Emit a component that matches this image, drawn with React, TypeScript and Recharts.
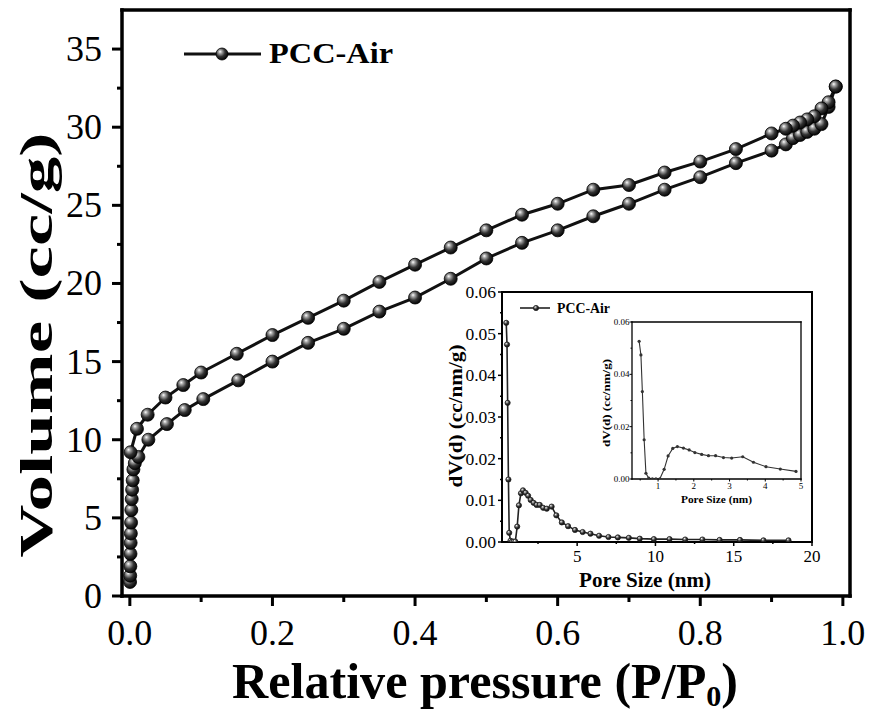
import { LineChart, Line, XAxis, YAxis } from "recharts";

const FONT = '"Liberation Serif", "Times New Roman", serif';

// N2 isotherm – adsorption branch
const adsPressure = [
  0.0003, 0.0005, 0.0007, 0.0009, 0.0011, 0.0014, 0.0017, 0.0021, 0.0026, 0.0032,
  0.004, 0.005, 0.007, 0.012, 0.026, 0.052, 0.077, 0.103, 0.152, 0.2, 0.25, 0.3,
  0.35, 0.4, 0.45, 0.5, 0.55, 0.6, 0.65, 0.7, 0.75, 0.8, 0.85, 0.9, 0.92, 0.93,
  0.94, 0.95, 0.96, 0.97, 0.98, 0.99,
];
const adsVolume = [
  0.9, 1.3, 1.9, 2.7, 3.4, 4.0, 4.7, 5.5, 6.2, 6.8, 7.4, 8.1, 8.5, 8.9, 10.0, 11.0,
  11.9, 12.6, 13.8, 15.0, 16.2, 17.1, 18.2, 19.1, 20.3, 21.6, 22.6, 23.4, 24.3,
  25.1, 26.0, 26.8, 27.7, 28.5, 28.9, 29.3, 29.5, 29.7, 29.9, 30.2, 31.3, 32.6,
];

// desorption branch
const desPressure = [
  0.99, 0.98, 0.97, 0.96, 0.95, 0.94, 0.93, 0.92, 0.9, 0.85, 0.8, 0.75, 0.7, 0.65,
  0.6, 0.55, 0.5, 0.45, 0.4, 0.35, 0.3, 0.25, 0.2, 0.15, 0.1, 0.075, 0.05, 0.025,
  0.01, 0.001,
];
const desVolume = [
  32.6, 31.6, 31.2, 30.7, 30.5, 30.3, 30.1, 29.9, 29.6, 28.6, 27.8, 27.1, 26.3,
  26.0, 25.1, 24.4, 23.4, 22.3, 21.2, 20.1, 18.9, 17.8, 16.7, 15.5, 14.3, 13.5,
  12.7, 11.6, 10.7, 9.2,
];

// pore size distribution
const poreSize = [
  0.47, 0.52, 0.56, 0.61, 0.66, 0.74, 0.84, 0.94, 1.05, 1.17, 1.28, 1.41, 1.54,
  1.71, 1.87, 2.03, 2.22, 2.41, 2.61, 2.83, 3.06, 3.37, 3.67, 4.02, 4.42, 4.86,
  5.35, 5.85, 6.4, 7.0, 7.6, 8.3, 9.0, 9.9, 10.9, 11.9, 13.0, 14.1, 15.4, 16.9,
  18.5,
];
const poreVolume = [
  0.0526, 0.0474, 0.0334, 0.015, 0.0022, 0.0003, 0.0001, 0.0001, 0.0001, 0.0037,
  0.0088, 0.0117, 0.0124, 0.0118, 0.0111, 0.0101, 0.0094, 0.0089, 0.0089, 0.0082,
  0.008, 0.0085, 0.0064, 0.0047, 0.0038, 0.0029, 0.0024, 0.002, 0.0015, 0.0012,
  0.0011, 0.001, 0.0008, 0.0007, 0.0007, 0.0006, 0.0006, 0.0005, 0.0005, 0.0004,
  0.0004,
];

// ticks
const pressureTicks = [0, 0.1, 0.2, 0.3, 0.4, 0.5, 0.6, 0.7, 0.8, 0.9, 1.0];
const pressureLabels = [0, 0.2, 0.4, 0.6, 0.8, 1.0];
const volumeTicks = [0, 2.5, 5, 7.5, 10, 12.5, 15, 17.5, 20, 22.5, 25, 27.5, 30, 32.5, 35];
const volumeLabels = [0, 5, 10, 15, 20, 25, 30, 35];
const sizeTicks = [2.5, 5, 7.5, 10, 12.5, 15, 17.5, 20];
const sizeLabels = [5, 10, 15, 20];
const dvTicks = [0, 0.005, 0.01, 0.015, 0.02, 0.025, 0.03, 0.035, 0.04, 0.045, 0.05, 0.055, 0.06];
const dvLabels = [0, 0.01, 0.02, 0.03, 0.04, 0.05, 0.06];
const zoomSizeTicks = [0.5, 1, 1.5, 2, 2.5, 3, 3.5, 4, 4.5, 5];
const zoomSizeLabels = [1, 2, 3, 4, 5];
const zoomDvTicks = [0, 0.01, 0.02, 0.03, 0.04, 0.05, 0.06];
const zoomDvLabels = [0, 0.02, 0.04, 0.06];

const adsorption = adsPressure.map((p, i) => ({ p, v: adsVolume[i] }));
const desorption = desPressure.map((p, i) => ({ p, v: desVolume[i] }));
const psd = poreSize.map((d, i) => ({ d, dv: poreVolume[i] }));
const psdZoom = psd.filter((r) => r.d <= 5);

type TickOpts = {
  labels: number[];
  major: number;
  minor: number;
  width: number;
  gap: number;
  fontSize: number;
  fmt: (v: number) => string;
  shift: number;
};

const yTick = (o: TickOpts) => (props: any) => {
  const { x, y, payload } = props;
  const isMajor = o.labels.includes(payload.value);
  return (
    <g>
      <line x1={x} x2={x - (isMajor ? o.major : o.minor)} y1={y} y2={y} stroke="#000" strokeWidth={o.width} />
      {isMajor && (
        <text x={x - o.major - o.gap} y={y + o.shift} textAnchor="end" fontSize={o.fontSize} fontFamily={FONT} fill="#000">
          {o.fmt(payload.value)}
        </text>
      )}
    </g>
  );
};

const xTick = (o: TickOpts) => (props: any) => {
  const { x, y, payload } = props;
  const isMajor = o.labels.includes(payload.value);
  return (
    <g>
      <line x1={x} x2={x} y1={y} y2={y + (isMajor ? o.major : o.minor)} stroke="#000" strokeWidth={o.width} />
      {isMajor && (
        <text x={x} y={y + o.shift} textAnchor="middle" fontSize={o.fontSize} fontFamily={FONT} fill="#000">
          {o.fmt(payload.value)}
        </text>
      )}
    </g>
  );
};

const ball = (r: number, grad: string, stroke: string, sw: number) => (props: any) => (
  <circle key={`b-${props.index}`} cx={props.cx} cy={props.cy} r={r} fill={`url(#${grad})`} stroke={stroke} strokeWidth={sw} />
);

const Sphere = ({ id }: { id: string }) => (
  <radialGradient id={id} cx="40%" cy="38%" r="62%" fx="34%" fy="30%">
    <stop offset="0%" stopColor="#ffffff" />
    <stop offset="22%" stopColor="#a8a8a8" />
    <stop offset="60%" stopColor="#333333" />
    <stop offset="100%" stopColor="#050505" />
  </radialGradient>
);

const frame = (w: number) => ({ stroke: "#000", strokeWidth: w, strokeLinecap: "square" as const });

// axes keep a 1px band (a zero-sized axis is not rendered)
function MainChart() {
  return (
    <LineChart width={870} height={715} margin={{ top: 9, right: 19, bottom: 118, left: 121 }}>
      <defs>
        <Sphere id="ballMain" />
      </defs>
      <XAxis
        type="number"
        dataKey="p"
        domain={[-0.011, 1.01]}
        ticks={pressureTicks}
        interval={0}
        height={1}
        tickSize={0}
        tickMargin={0}
        tickLine={false}
        axisLine={frame(3.5)}
        tick={xTick({ labels: pressureLabels, major: 10, minor: 6, width: 3, gap: 0, fontSize: 36, fmt: (v) => v.toFixed(1), shift: 49 })}
        allowDataOverflow
      />
      <XAxis xAxisId="top" orientation="top" type="number" domain={[0, 1]} height={1} tick={false} tickLine={false} axisLine={frame(3.5)} />
      <YAxis
        type="number"
        domain={[0, 37.5]}
        ticks={volumeTicks}
        interval={0}
        width={1}
        tickSize={0}
        tickMargin={0}
        tickLine={false}
        axisLine={frame(3.5)}
        tick={yTick({ labels: volumeLabels, major: 10, minor: 5, width: 3, gap: 10, fontSize: 36, fmt: (v) => String(v), shift: 12 })}
        allowDataOverflow
      />
      <YAxis yAxisId="right" orientation="right" type="number" domain={[0, 1]} width={1} tick={false} tickLine={false} axisLine={frame(3.5)} />
      <Line data={adsorption} dataKey="v" stroke="#111" strokeWidth={3} dot={ball(6.5, "ballMain", "#000", 0.8)} activeDot={false} isAnimationActive={false} />
      <Line data={desorption} dataKey="v" stroke="#111" strokeWidth={3} dot={ball(6.5, "ballMain", "#000", 0.8)} activeDot={false} isAnimationActive={false} />
    </LineChart>
  );
}

function PsdInset() {
  return (
    <LineChart width={420} height={330} margin={{ top: 21, right: 27, bottom: 57, left: 81 }}>
      <defs>
        <Sphere id="ballInset" />
      </defs>
      <XAxis
        type="number"
        dataKey="d"
        domain={[0.2, 20]}
        ticks={sizeTicks}
        interval={0}
        height={1}
        tickSize={0}
        tickMargin={0}
        tickLine={false}
        axisLine={frame(2)}
        tick={xTick({ labels: sizeLabels, major: 4, minor: 2, width: 1.5, gap: 0, fontSize: 17, fmt: (v) => String(v), shift: 20 })}
        allowDataOverflow
      />
      <XAxis xAxisId="top" orientation="top" type="number" domain={[0, 1]} height={1} tick={false} tickLine={false} axisLine={frame(2)} />
      <YAxis
        type="number"
        domain={[0, 0.06]}
        ticks={dvTicks}
        interval={0}
        width={1}
        tickSize={0}
        tickMargin={0}
        tickLine={false}
        axisLine={frame(2)}
        tick={yTick({ labels: dvLabels, major: 4, minor: 2, width: 1.5, gap: 2, fontSize: 17.5, fmt: (v) => v.toFixed(2), shift: 6 })}
        allowDataOverflow
      />
      <YAxis yAxisId="right" orientation="right" type="number" domain={[0, 1]} width={1} tick={false} tickLine={false} axisLine={frame(2)} />
      <Line data={psd} dataKey="dv" stroke="#222" strokeWidth={1.6} dot={ball(2.6, "ballInset", "#222", 0.8)} activeDot={false} isAnimationActive={false} />
    </LineChart>
  );
}

function PsdZoom() {
  return (
    <LineChart width={230} height={210} margin={{ top: 21, right: 18, bottom: 30, left: 41 }}>
      <XAxis
        type="number"
        dataKey="d"
        domain={[0.27, 5]}
        ticks={zoomSizeTicks}
        interval={0}
        height={1}
        tickSize={0}
        tickMargin={0}
        tickLine={false}
        axisLine={frame(1.3)}
        tick={xTick({ labels: zoomSizeLabels, major: 2.5, minor: 1.5, width: 1, gap: 0, fontSize: 9, fmt: (v) => String(v), shift: 10 })}
        allowDataOverflow
      />
      <XAxis xAxisId="top" orientation="top" type="number" domain={[0, 1]} height={1} tick={false} tickLine={false} axisLine={frame(1.3)} />
      <YAxis
        type="number"
        domain={[0, 0.06]}
        ticks={zoomDvTicks}
        interval={0}
        width={1}
        tickSize={0}
        tickMargin={0}
        tickLine={false}
        axisLine={frame(1.3)}
        tick={yTick({ labels: zoomDvLabels, major: 2.5, minor: 1.5, width: 1, gap: 0, fontSize: 9, fmt: (v) => v.toFixed(2), shift: 3 })}
        allowDataOverflow
      />
      <YAxis yAxisId="right" orientation="right" type="number" domain={[0, 1]} width={1} tick={false} tickLine={false} axisLine={frame(1.3)} />
      <Line
        data={psdZoom}
        dataKey="dv"
        stroke="#333"
        strokeWidth={1.1}
        dot={(p: any) => <circle key={`z-${p.index}`} cx={p.cx} cy={p.cy} r={1.6} fill="#333" />}
        activeDot={false}
        isAnimationActive={false}
      />
    </LineChart>
  );
}

// titles and legends drawn on top of the three plots
function Annotations() {
  return (
    <svg width={870} height={715} style={{ position: "absolute", left: 0, top: 0, pointerEvents: "none" }} fontFamily={FONT}>
      <defs>
        <Sphere id="ballLegend" />
      </defs>
      <line x1={184} x2={261} y1={54} y2={54} stroke="#111" strokeWidth={3} />
      <circle cx={222} cy={54} r={6} fill="url(#ballLegend)" stroke="#000" strokeWidth={0.8} />
      <text x={269} y={63} fontSize={29} fontWeight="bold" textLength={124} lengthAdjust="spacingAndGlyphs">PCC-Air</text>

      <text x={232} y={698} fontSize={50} fontWeight="bold" textLength={506} lengthAdjust="spacingAndGlyphs">
        Relative pressure (P/P<tspan fontSize={30} dy={8}>0</tspan><tspan dy={-8}>)</tspan>
      </text>
      <text x={52} y={345} transform="rotate(-90 52 345)" textAnchor="middle" fontSize={46} fontWeight="bold" textLength={425} lengthAdjust="spacingAndGlyphs">
        Volume (cc/g)
      </text>

      <line x1={520} x2={550} y1={308} y2={308} stroke="#222" strokeWidth={1.6} />
      <circle cx={536} cy={308} r={2.6} fill="url(#ballLegend)" stroke="#222" strokeWidth={0.8} />
      <text x={557} y={313} fontSize={14} fontWeight="bold" textLength={53} lengthAdjust="spacingAndGlyphs">PCC-Air</text>
      <text x={579} y={587} fontSize={20} fontWeight="bold" textLength={132} lengthAdjust="spacingAndGlyphs">Pore Size (nm)</text>
      <text x={462} y={416} transform="rotate(-90 462 416)" textAnchor="middle" fontSize={19} fontWeight="bold" textLength={143} lengthAdjust="spacingAndGlyphs">
        dV(d) (cc/nm/g)
      </text>

      <text x={681} y={503} fontSize={11} fontWeight="bold" textLength={71} lengthAdjust="spacingAndGlyphs">Pore Size (nm)</text>
      <text x={610} y={403} transform="rotate(-90 610 403)" textAnchor="middle" fontSize={9.5} fontWeight="bold" textLength={88} lengthAdjust="spacingAndGlyphs">
        dV(d) (cc/nm/g)
      </text>
    </svg>
  );
}

export default function App() {
  return (
    <div style={{ position: "absolute", left: 0, top: 0, width: 870, height: 715, background: "#fff", overflow: "hidden" }}>
      <div style={{ position: "absolute", left: 0, top: 0 }}>
        <MainChart />
      </div>
      <div style={{ position: "absolute", left: 420, top: 270 }}>
        <PsdInset />
      </div>
      <div style={{ position: "absolute", left: 590, top: 300 }}>
        <PsdZoom />
      </div>
      <Annotations />
    </div>
  );
}
